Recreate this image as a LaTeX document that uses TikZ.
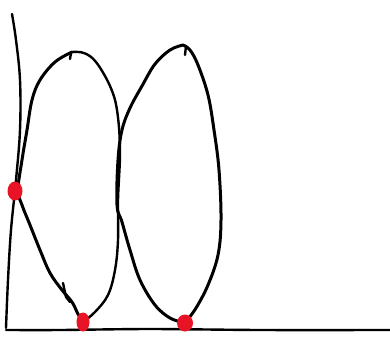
\documentclass[tikz,border=0pt]{standalone}
\begin{document}
\begin{tikzpicture}[x=1pt,y=-1pt,
  ink/.style={line width=3pt,line cap=round,line join=round},
  thin ink/.style={line width=2.4pt,line cap=round,line join=round},
  dot/.style={fill={rgb,255:red,232;green,20;blue,38},draw=none}]
\useasboundingbox (0,0) rectangle (390,338);
% axes
\draw[thin ink] plot[smooth,tension=0.6] coordinates {(12,14) (16,40) (20,80) (20,130) (16,180) (11,230) (8,280) (6,328)};
\draw[thin ink] plot[smooth,tension=0.5] coordinates {(6,330) (60,330) (150,329) (260,330) (390,330)};
% left loop
\draw[ink] plot[smooth,tension=0.6] coordinates {(72,52) (55,62) (40,80) (32,100) (27,130) (22,160) (18,190) (22,205) (30,225) (40,250) (50,273) (62,290) (72,302) (78,314) (83,322)};
\draw[thin ink] plot[smooth,tension=0.6] coordinates {(83,322) (95,312) (108,295) (115,270) (118,240) (118,200) (120,150) (117,110) (110,86) (96,62) (84,53) (72,52)};
\draw[thin ink] (71,53) -- (70,59);
\draw[thin ink] (63,283) -- (66,297) -- (70,302);
% right loop
\draw[ink] plot[smooth,tension=0.6] coordinates {(183,45) (170,50) (155,64) (142,86) (130,108) (122,130) (118,160) (117,205) (122,222) (130,250) (140,280) (155,305) (170,318) (185,323)};
\draw[ink] plot[smooth,tension=0.6] coordinates {(185,323) (196,308) (208,285) (218,255) (221,220) (219,170) (214,130) (208,95) (198,65) (190,50) (183,45)};
\draw[thin ink] (186,46) -- (185,55);
% red dots
\fill[dot] (15,191) ellipse[x radius=7.5,y radius=9.5];
\fill[dot] (83,322) ellipse[x radius=6.5,y radius=9.5];
\fill[dot] (185,323) ellipse[x radius=8,y radius=8.5];
\end{tikzpicture}
\end{document}
